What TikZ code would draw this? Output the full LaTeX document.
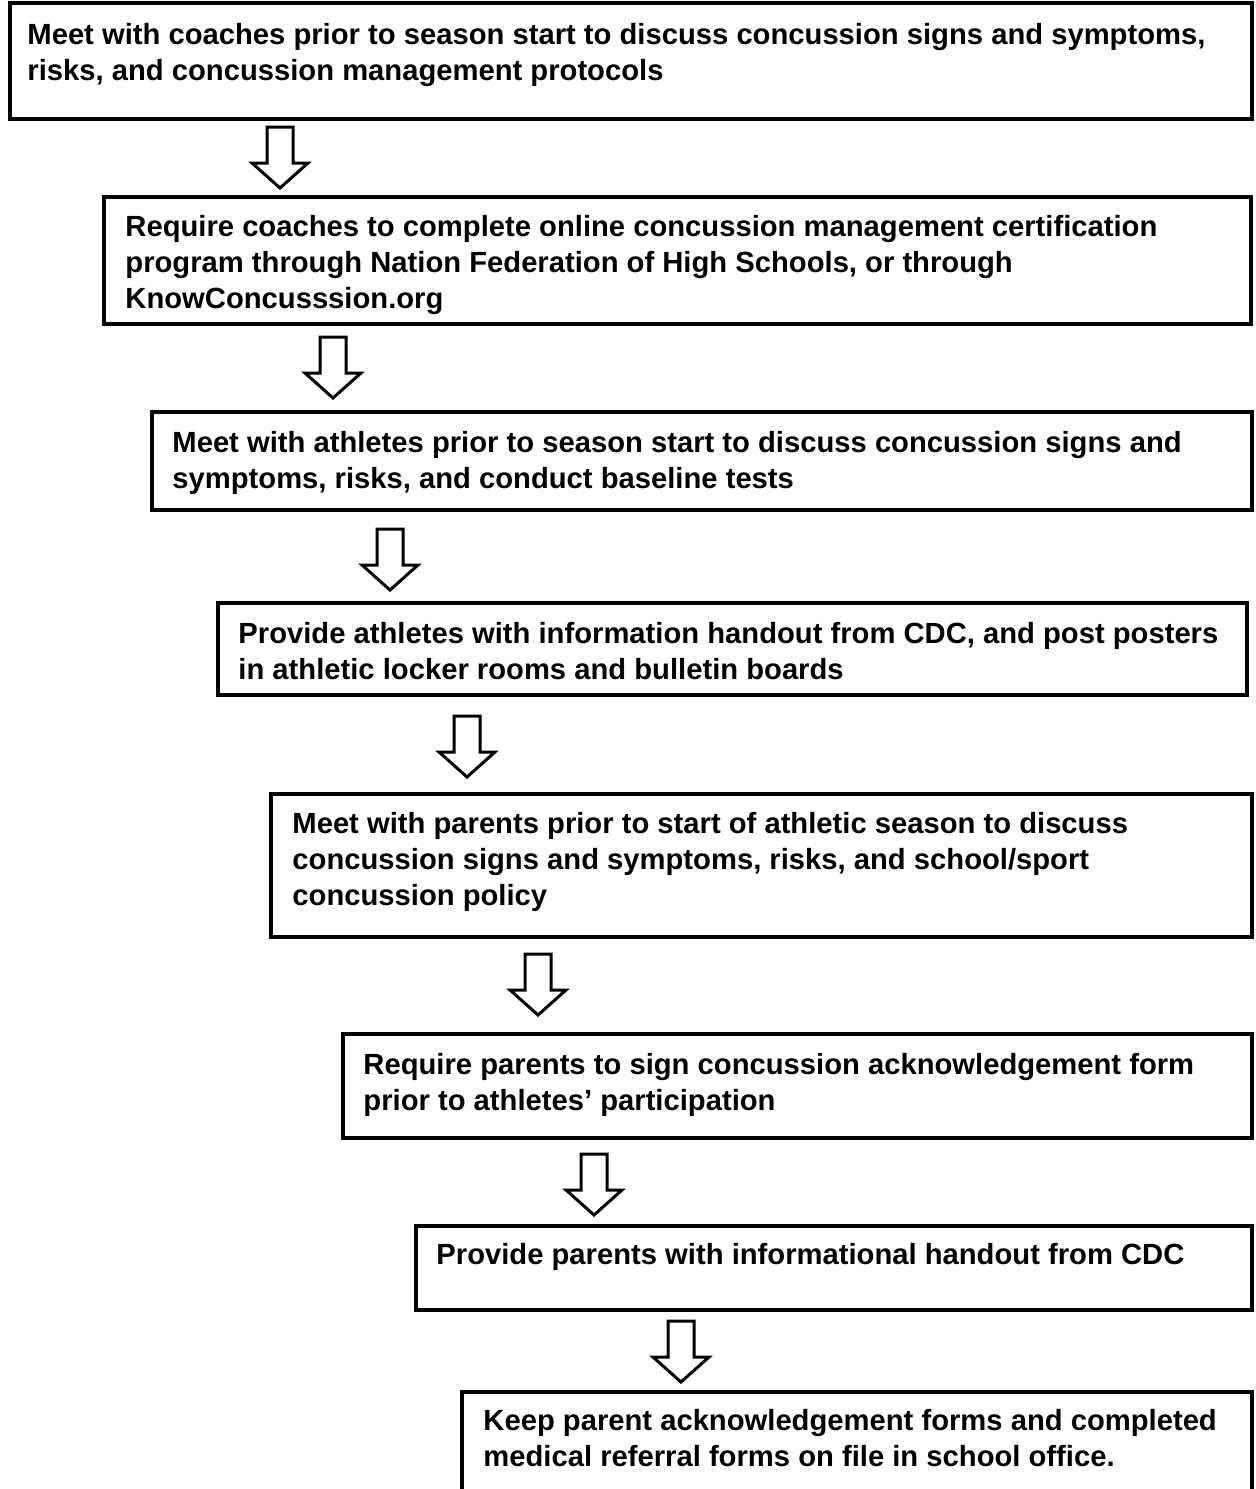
\documentclass[tikz,border=0pt]{standalone}
\usepackage{fontspec}
\setmainfont{Liberation Sans}
\usetikzlibrary{calc}
\begin{document}
\begin{tikzpicture}[x=1pt,y=-1pt,
  stepbox/.style={draw=black, line width=3.5pt, fill=white, inner sep=0pt},
  steptext/.style={anchor=base west, inner sep=0pt, font=\fontsize{29.2pt}{36pt}\selectfont\bfseries},
  blockarrow/.style={draw=black, line width=3pt, fill=white, line join=miter}]
\useasboundingbox (0,0) rectangle (1256,1489);
% boxes: centre, width, height
\node[stepbox, minimum width=1242pt, minimum height=116pt] (b1) at (631,61) {};
\node[stepbox, minimum width=1147pt, minimum height=127pt] (b2) at (677.5,260.5) {};
\node[stepbox, minimum width=1100pt, minimum height=98pt]  (b3) at (702,461) {};
\node[stepbox, minimum width=1029pt, minimum height=92pt]  (b4) at (732.5,649) {};
\node[stepbox, minimum width=981pt,  minimum height=143pt] (b5) at (761.5,865.5) {};
\node[stepbox, minimum width=909pt,  minimum height=104pt] (b6) at (797.5,1086) {};
\node[stepbox, minimum width=836pt,  minimum height=84pt]  (b7) at (834,1268) {};
\node[stepbox, minimum width=790pt,  minimum height=118pt] (b8) at (857,1451) {};
% texts
\node[steptext] (t1) at ($(b1.north west)+(19,43)$) {\begin{tabular}[t]{@{}l@{}}Meet with coaches prior to season start to discuss concussion signs and symptoms,\\risks, and concussion management protocols\end{tabular}};
\node[steptext] (t2) at ($(b2.north west)+(23,41)$) {\begin{tabular}[t]{@{}l@{}}Require coaches to complete online concussion management certification\\program through Nation Federation of High Schools, or through\\KnowConcusssion.org\end{tabular}};
\node[steptext] (t3) at ($(b3.north west)+(22,42)$) {\begin{tabular}[t]{@{}l@{}}Meet with athletes prior to season start to discuss concussion signs and\\symptoms, risks, and conduct baseline tests\end{tabular}};
\node[steptext] (t4) at ($(b4.north west)+(22,42)$) {\begin{tabular}[t]{@{}l@{}}Provide athletes with information handout from CDC, and post posters\\in athletic locker rooms and bulletin boards\end{tabular}};
\node[steptext] (t5) at ($(b5.north west)+(23,41)$) {\begin{tabular}[t]{@{}l@{}}Meet with parents prior to start of athletic season to discuss\\concussion signs and symptoms, risks, and school/sport\\concussion policy\end{tabular}};
\node[steptext] (t6) at ($(b6.north west)+(22,42)$) {\begin{tabular}[t]{@{}l@{}}Require parents to sign concussion acknowledgement form\\prior to athletes’ participation\end{tabular}};
\node[steptext] (t7) at ($(b7.north west)+(22,40)$) {Provide parents with informational handout from CDC};
\node[steptext] (t8) at ($(b8.north west)+(23,40)$) {\begin{tabular}[t]{@{}l@{}}Keep parent acknowledgement forms and completed\\medical referral forms on file in school office.\end{tabular}};
% block arrows
\coordinate (a1) at (280,127);
\coordinate (a2) at (333,337);
\coordinate (a3) at (390,529);
\coordinate (a4) at (467,716);
\coordinate (a5) at (538,954);
\coordinate (a6) at (594,1154);
\coordinate (a7) at (681,1321);
\foreach \a in {a1,a2,a3,a4,a5,a6,a7}{
  \draw[blockarrow] ($(\a)+(-13,0)$) -- ($(\a)+(13,0)$) -- ($(\a)+(13,36)$) -- ($(\a)+(28,36)$)
     -- ($(\a)+(0,61)$) -- ($(\a)+(-28,36)$) -- ($(\a)+(-13,36)$) -- cycle;
}
\end{tikzpicture}
\end{document}
